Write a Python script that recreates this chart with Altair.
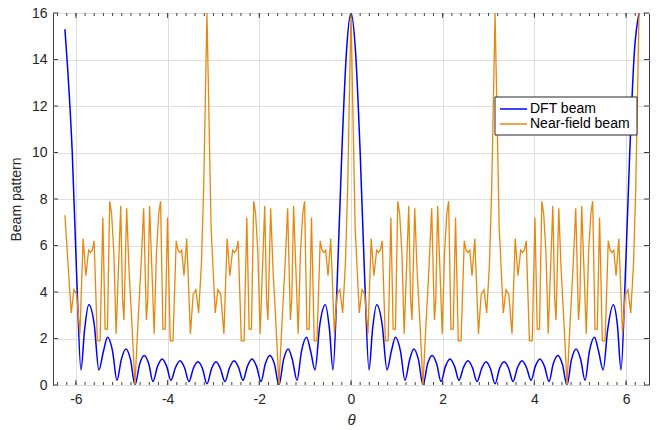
import altair as alt
import pandas as pd

# ---------------- data ----------------
dft_theta = [
    -6.24, -6.18, -6.08, -5.98, -5.89, -5.81, -5.72, -5.60, -5.50, -5.40, -5.31, -5.20,
    -5.105, -5.01, -4.91, -4.81, -4.712, -4.61, -4.51, -4.41, -4.32, -4.22, -4.12, -4.02,
    -3.927, -3.83, -3.73, -3.63, -3.534, -3.44, -3.34, -3.24, -3.142, -3.04, -2.945, -2.85,
    -2.749, -2.65, -2.55, -2.45, -2.356, -2.26, -2.16, -2.06, -1.963, -1.87, -1.77, -1.67,
    -1.571, -1.47, -1.37, -1.28, -1.178, -1.08, -0.97, -0.88, -0.785, -0.68, -0.56, -0.47,
    -0.393, -0.30, -0.20, -0.10, 0.0,
    0.10, 0.20, 0.30, 0.393, 0.47, 0.56, 0.68, 0.785, 0.88, 0.97, 1.08, 1.178,
    1.28, 1.37, 1.47, 1.571, 1.67, 1.77, 1.87, 1.963, 2.06, 2.16, 2.26, 2.356,
    2.45, 2.55, 2.65, 2.749, 2.85, 2.945, 3.04, 3.142, 3.24, 3.34, 3.44, 3.534,
    3.63, 3.73, 3.83, 3.927, 4.02, 4.12, 4.22, 4.32, 4.41, 4.51, 4.61, 4.712,
    4.81, 4.91, 5.01, 5.105, 5.20, 5.31, 5.40, 5.50, 5.60, 5.72, 5.81, 5.89,
    5.98, 6.08, 6.18, 6.283,
]
dft_value = [
    15.3, 13.6, 10.0, 4.5, 0.65, 2.4, 3.45, 2.6, 0.65, 1.45, 2.05, 1.45,
    0.2, 1.1, 1.55, 1.1, 0.0, 0.9, 1.27, 0.9, 0.15, 0.8, 1.12, 0.8,
    0.2, 0.74, 1.04, 0.74, 0.15, 0.71, 1.0, 0.71, 0.05, 0.71, 1.0, 0.71,
    0.15, 0.74, 1.04, 0.74, 0.2, 0.8, 1.12, 0.8, 0.15, 0.9, 1.27, 0.9,
    0.0, 1.1, 1.55, 1.1, 0.2, 1.45, 2.05, 1.45, 0.65, 2.6, 3.45, 2.4,
    0.65, 4.5, 10.0, 14.3, 16.0,
    14.3, 10.0, 4.5, 0.65, 2.4, 3.45, 2.6, 0.65, 1.45, 2.05, 1.45, 0.2,
    1.1, 1.55, 1.1, 0.0, 0.9, 1.27, 0.9, 0.15, 0.8, 1.12, 0.8, 0.2,
    0.74, 1.04, 0.74, 0.15, 0.71, 1.0, 0.71, 0.05, 0.71, 1.0, 0.71, 0.15,
    0.74, 1.04, 0.74, 0.2, 0.8, 1.12, 0.8, 0.15, 0.9, 1.27, 0.9, 0.0,
    1.1, 1.55, 1.1, 0.2, 1.45, 2.05, 1.45, 0.65, 2.4, 3.45, 2.6, 0.65,
    4.5, 10.0, 14.3, 16.0,
]

near_theta = [
    -6.24,
    -6.103, -6.043, -5.983, -5.913, -5.843, -5.783, -5.723, -5.683, -5.643, -5.603,
    -5.533, -5.473, -5.413, -5.363, -5.313, -5.263, -5.223, -5.173, -5.123, -5.023,
    -4.983, -4.953, -4.893, -4.843, -4.783, -4.713, -4.643, -4.583, -4.523, -4.463,
    -4.433, -4.393, -4.293, -4.243, -4.193, -4.153, -4.103, -4.053, -4.003, -3.943,
    -3.883, -3.813, -3.773, -3.733, -3.693, -3.643, -3.583, -3.503, -3.443, -3.383,
    -3.323, -3.263, -3.213,
    -3.142,
    -3.052, -2.962, -2.902, -2.842, -2.772, -2.702, -2.642, -2.582, -2.542, -2.502,
    -2.462, -2.392, -2.332, -2.272, -2.222, -2.172, -2.122, -2.082, -2.032, -1.982,
    -1.882, -1.842, -1.812, -1.752, -1.702, -1.642, -1.572, -1.502, -1.442, -1.382,
    -1.322, -1.292, -1.252, -1.152, -1.102, -1.052, -1.012, -0.962, -0.912, -0.862,
    -0.802, -0.742, -0.672, -0.632, -0.592, -0.552, -0.502, -0.442, -0.362, -0.302,
    -0.242, -0.182, -0.122, -0.072,
    0.0,
    0.09, 0.18, 0.24, 0.30, 0.37, 0.44, 0.50, 0.56, 0.60, 0.64,
    0.68, 0.75, 0.81, 0.87, 0.92, 0.97, 1.02, 1.06, 1.11, 1.16,
    1.26, 1.30, 1.33, 1.39, 1.44, 1.50, 1.57, 1.64, 1.70, 1.76,
    1.82, 1.85, 1.89, 1.99, 2.04, 2.09, 2.13, 2.18, 2.23, 2.28,
    2.34, 2.40, 2.47, 2.51, 2.55, 2.59, 2.64, 2.70, 2.78, 2.84,
    2.90, 2.96, 3.02, 3.07,
    3.142,
    3.232, 3.322, 3.382, 3.442, 3.512, 3.582, 3.642, 3.702, 3.742, 3.782,
    3.822, 3.892, 3.952, 4.012, 4.062, 4.112, 4.162, 4.202, 4.252, 4.302,
    4.402, 4.442, 4.472, 4.532, 4.582, 4.642, 4.712, 4.782, 4.842, 4.902,
    4.962, 4.992, 5.032, 5.132, 5.182, 5.232, 5.272, 5.322, 5.372, 5.422,
    5.482, 5.542, 5.612, 5.652, 5.692, 5.732, 5.782, 5.842, 5.922, 5.982,
    6.042, 6.102, 6.162, 6.212,
    6.283,
]
near_value = [
    7.3,
    3.1, 4.1, 3.9, 2.2, 6.3, 4.7, 5.8, 5.7, 5.8, 6.2,
    1.9, 1.9, 7.2, 2.4, 2.4, 7.9, 7.4, 5.7, 2.2, 7.7,
    3.7, 2.8, 7.6, 5.0, 2.8, 0.0, 2.8, 5.0, 7.6, 2.8,
    3.7, 7.7, 2.2, 5.7, 7.4, 7.9, 2.4, 2.4, 7.2, 1.9,
    1.9, 6.2, 5.8, 5.7, 5.8, 4.7, 6.3, 2.2, 3.9, 4.1,
    3.1, 5.2, 8.5,
    16.0,
    6.8, 3.1, 4.1, 3.9, 2.2, 6.3, 4.7, 5.8, 5.7, 5.8,
    6.2, 1.9, 1.9, 7.2, 2.4, 2.4, 7.9, 7.4, 5.7, 2.2,
    7.7, 3.7, 2.8, 7.6, 5.0, 2.8, 0.0, 2.8, 5.0, 7.6,
    2.8, 3.7, 7.7, 2.2, 5.7, 7.4, 7.9, 2.4, 2.4, 7.2,
    1.9, 1.9, 6.2, 5.8, 5.7, 5.8, 4.7, 6.3, 2.2, 3.9,
    4.1, 3.1, 5.2, 8.5,
    16.0,
    6.8, 3.1, 4.1, 3.9, 2.2, 6.3, 4.7, 5.8, 5.7, 5.8,
    6.2, 1.9, 1.9, 7.2, 2.4, 2.4, 7.9, 7.4, 5.7, 2.2,
    7.7, 3.7, 2.8, 7.6, 5.0, 2.8, 0.0, 2.8, 5.0, 7.6,
    2.8, 3.7, 7.7, 2.2, 5.7, 7.4, 7.9, 2.4, 2.4, 7.2,
    1.9, 1.9, 6.2, 5.8, 5.7, 5.8, 4.7, 6.3, 2.2, 3.9,
    4.1, 3.1, 5.2, 8.5,
    16.0,
    6.8, 3.1, 4.1, 3.9, 2.2, 6.3, 4.7, 5.8, 5.7, 5.8,
    6.2, 1.9, 1.9, 7.2, 2.4, 2.4, 7.9, 7.4, 5.7, 2.2,
    7.7, 3.7, 2.8, 7.6, 5.0, 2.8, 0.0, 2.8, 5.0, 7.6,
    2.8, 3.7, 7.7, 2.2, 5.7, 7.4, 7.9, 2.4, 2.4, 7.2,
    1.9, 1.9, 6.2, 5.8, 5.7, 5.8, 4.7, 6.3, 2.2, 3.9,
    4.1, 3.1, 5.2, 8.5,
    16.0,
]

x_major = [-6, -4, -2, 0, 2, 4, 6]
x_minor = [
    -6.4, -6.2, -6.0, -5.8, -5.6, -5.4, -5.2, -5.0, -4.8, -4.6, -4.4, -4.2, -4.0,
    -3.8, -3.6, -3.4, -3.2, -3.0, -2.8, -2.6, -2.4, -2.2, -2.0, -1.8, -1.6, -1.4,
    -1.2, -1.0, -0.8, -0.6, -0.4, -0.2, 0.0, 0.2, 0.4, 0.6, 0.8, 1.0, 1.2, 1.4,
    1.6, 1.8, 2.0, 2.2, 2.4, 2.6, 2.8, 3.0, 3.2, 3.4, 3.6, 3.8, 4.0, 4.2, 4.4,
    4.6, 4.8, 5.0, 5.2, 5.4, 5.6, 5.8, 6.0, 6.2, 6.4,
]
y_major = [0, 2, 4, 6, 8, 10, 12, 14, 16]
legend_labels = ["DFT beam", "Near-field beam"]
series_colors = ["#0000FF", "#E8870E"]

# ---------------- chart ----------------
W, H = 596, 372
FONT = "Liberation Sans"
AX = "#262626"
GRID = "#dedede"

xs = alt.Scale(domain=[-6.5, 6.5], nice=False, zero=False)
ys = alt.Scale(domain=[0, 16], nice=False, zero=False)

x_axis = alt.Axis(
    values=x_major, labelExpr="'' + datum.value", grid=True, gridColor=GRID,
    domain=False, ticks=False, labelFont=FONT, labelFontSize=14, labelColor=AX,
    labelPadding=7, title="θ", titleFont=FONT, titleFontSize=15,
    titleFontStyle="italic", titleFontWeight="normal", titleColor=AX, titlePadding=6,
)
y_axis = alt.Axis(
    values=y_major, labelExpr="'' + datum.value", grid=True, gridColor=GRID,
    domain=False, ticks=False, labelFont=FONT, labelFontSize=14, labelColor=AX,
    labelPadding=6, title="Beam pattern", titleFont=FONT, titleFontSize=14,
    titleFontWeight="normal", titleColor=AX, titlePadding=8,
)

X = alt.X("theta:Q", scale=xs, axis=x_axis)
Y = alt.Y("value:Q", scale=ys, axis=y_axis)

dft_df = pd.DataFrame({"theta": dft_theta, "value": dft_value})
near_df = pd.DataFrame({"theta": near_theta, "value": near_value})

dft_line = alt.Chart(dft_df).mark_line(
    color=series_colors[0], strokeWidth=1.5, interpolate="monotone", clip=True
).encode(x=X, y=Y)
near_line = alt.Chart(near_df).mark_line(
    color=series_colors[1], strokeWidth=1.3, clip=True
).encode(x=X, y=Y)

# inward ticks (MATLAB style) on all four sides
xmaj_df = pd.DataFrame({"theta": x_major})
xmin_df = pd.DataFrame({"theta": x_minor})
ymaj_df = pd.DataFrame({"value": y_major})
tick_col = "#404040"

def xticks(df, length):
    bottom = alt.Chart(df).mark_rule(color=tick_col, strokeWidth=1).encode(
        x=X, y=alt.value(H), y2=alt.value(H - length))
    top = alt.Chart(df).mark_rule(color=tick_col, strokeWidth=1).encode(
        x=X, y=alt.value(0), y2=alt.value(length))
    return bottom + top

left_ticks = alt.Chart(ymaj_df).mark_rule(color=tick_col, strokeWidth=1).encode(
    y=Y, x=alt.value(0), x2=alt.value(5))
right_ticks = alt.Chart(ymaj_df).mark_rule(color=tick_col, strokeWidth=1).encode(
    y=Y, x=alt.value(W), x2=alt.value(W - 5))

# legend box drawn inside the plot
one = pd.DataFrame({"k": [0]})
leg_box = alt.Chart(one).mark_rect(fill="white", stroke=AX, strokeWidth=1).encode(
    x=alt.value(442), x2=alt.value(584), y=alt.value(84), y2=alt.value(122))
leg_l1 = alt.Chart(one).mark_rule(color=series_colors[0], strokeWidth=1.5).encode(
    x=alt.value(447), x2=alt.value(474), y=alt.value(96))
leg_l2 = alt.Chart(one).mark_rule(color=series_colors[1], strokeWidth=1.5).encode(
    x=alt.value(447), x2=alt.value(474), y=alt.value(111))
leg_t1 = alt.Chart(one).mark_text(
    text=legend_labels[0], align="left", baseline="middle", font=FONT,
    fontSize=14, color="#000000").encode(x=alt.value(477), y=alt.value(96))
leg_t2 = alt.Chart(one).mark_text(
    text=legend_labels[1], align="left", baseline="middle", font=FONT,
    fontSize=14, color="#000000").encode(x=alt.value(477), y=alt.value(111))

chart = alt.layer(
    dft_line, near_line,
    xticks(xmaj_df, 5), xticks(xmin_df, 3), left_ticks, right_ticks,
    leg_box, leg_l1, leg_l2, leg_t1, leg_t2,
).properties(
    width=W, height=H,
    autosize=alt.AutoSizeParams(type="none"),
    padding={"left": 53, "top": 13, "right": 9, "bottom": 45},
    background="white",
).configure_view(stroke="#404040", strokeWidth=1)

chart.save("out.html", embed_options={"renderer": "svg", "actions": False})
